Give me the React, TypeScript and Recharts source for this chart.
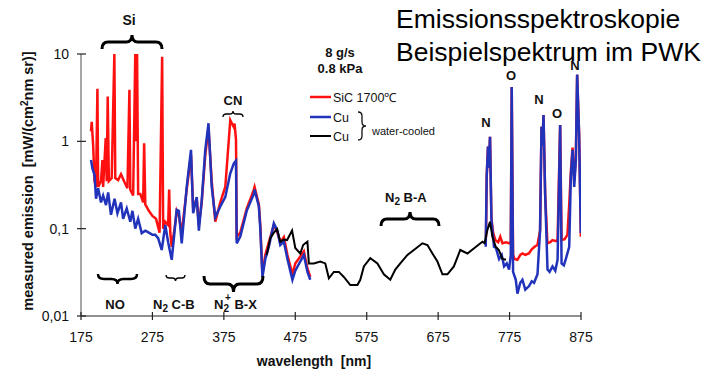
import { Line, LineChart, XAxis, YAxis } from "recharts";

const X_TICKS = [175, 275, 375, 475, 575, 675, 775, 875];
const Y_TICKS = [0.01, 0.1, 1, 10];

// SiC 1700 °C, UV part
const SIC_UV_NM = [
  189, 190, 192, 194, 196, 198, 199, 203, 205, 206, 209.6, 211, 212.4, 214, 218, 221.7, 223, 227, 231, 236,
  240, 242.8, 244, 248, 251, 252.3, 253.5, 255, 258, 262, 263.4, 265, 270, 275, 280, 285, 288.6, 290, 293,
  297, 298.4, 300, 302, 306, 309, 312, 316, 323, 329, 332, 337, 340, 344, 349, 353.5, 358, 363, 370, 377,
  384, 388.6, 390, 392, 393, 398, 407, 417, 418, 424, 426, 429, 433, 438, 445, 450, 454, 459, 464, 471,
  475, 487, 492, 496,
];
const SIC_UV_VAL = [
  1.3, 1.67, 0.9, 0.35, 0.3, 4.0, 0.3, 0.35, 0.61, 0.3, 1.09, 0.35, 3.25, 0.35, 0.38, 10, 0.38, 0.36, 0.42, 0.34,
  0.29, 3.9, 0.28, 0.24, 10, 1.0, 10, 0.25, 0.25, 0.2, 0.95, 0.19, 0.16, 0.14, 0.13, 0.09, 9.3, 0.1, 0.12,
  0.11, 0.28, 0.09, 0.062, 0.1, 0.16, 0.14, 0.09, 0.28, 0.7, 0.17, 0.22, 0.11, 0.2, 0.7, 1.4, 0.35, 0.12, 0.2, 0.3,
  1.75, 1.47, 1.6, 1.04, 0.081, 0.09, 0.17, 0.28, 0.3, 0.19, 0.11, 0.03, 0.05, 0.07, 0.11, 0.09, 0.07, 0.08, 0.05, 0.03,
  0.04, 0.055, 0.035, 0.028,
];

// SiC 1700 °C, NIR part
const SIC_NIR_NM = [
  742, 743, 744.8, 746, 747.6, 749.6, 752, 755, 759, 762, 765, 770, 774.3, 776.7, 778, 779.9, 782, 786, 790,
  793, 797, 802, 806, 810, 814, 817.7, 819.7, 821, 822.5, 824.8, 828, 832, 835, 840, 842.2, 845.8, 847.8, 852,
  856, 858.5, 860.8, 863.2, 865.5, 867.8, 869.6, 872.4, 874.8,
];
const SIC_NIR_VAL = [
  0.08, 0.4, 0.87, 0.5, 1.13, 0.13, 0.09, 0.074, 0.07, 0.081, 0.068, 0.07, 0.068, 0.07, 4.2, 0.05, 0.045, 0.044, 0.05,
  0.052, 0.05, 0.052, 0.058, 0.062, 0.065, 0.095, 1.47, 0.9, 2.0, 0.25, 0.068, 0.07, 0.074, 0.072, 0.074, 1.54, 0.074, 0.076,
  0.085, 0.19, 0.45, 0.85, 0.35, 0.65, 5.8, 1.2, 0.081,
];

// Cu, UV part
const CU_UV_NM = [
  189, 191, 194, 196, 199, 203, 206, 210, 213, 217, 222, 226, 231, 234, 239, 244, 247, 251, 255, 260, 265, 270,
  275, 279, 283, 288, 293, 297, 302, 309, 312, 316, 323, 329, 332, 337, 340, 344, 349, 353.5, 358, 363, 370,
  377, 384, 389, 392, 393, 398, 407, 417, 418, 424, 426, 429, 433, 438, 445, 450, 454, 459, 464, 471, 475,
  487, 492, 496,
];
const CU_UV_VAL = [
  0.61, 0.49, 0.41, 0.22, 0.29, 0.2, 0.24, 0.186, 0.26, 0.144, 0.22, 0.15, 0.2, 0.13, 0.17, 0.12, 0.16, 0.1, 0.13, 0.089, 0.095, 0.09,
  0.085, 0.085, 0.078, 0.057, 0.11, 0.07, 0.044, 0.164, 0.16, 0.068, 0.3, 0.8, 0.15, 0.23, 0.095, 0.21, 0.8, 1.61, 0.3, 0.135, 0.18,
  0.23, 0.43, 0.56, 0.6, 0.068, 0.081, 0.16, 0.25, 0.28, 0.18, 0.1, 0.028, 0.045, 0.062, 0.115, 0.095, 0.065, 0.071, 0.045, 0.026, 0.033,
  0.05, 0.032, 0.026,
];

// Cu, NIR part
const CU_NIR_NM = [
  741.6, 743, 744.8, 746, 747.6, 749.6, 753.2, 756, 760.3, 764, 767.3, 771, 774.3, 776.7, 778, 779.9, 783.7, 786,
  790, 793, 797, 802.3, 806, 809.3, 814.1, 817.7, 819.7, 821, 822.5, 824.8, 828.1, 831, 835.1, 839, 842.2, 845.8,
  847.8, 851, 853.8, 858.5, 860.8, 863.2, 865.5, 867.8, 869.6, 872.4, 874.8,
];
const CU_NIR_VAL = [
  0.062, 0.4, 0.87, 0.5, 1.13, 0.126, 0.062, 0.06, 0.045, 0.05, 0.037, 0.04, 0.034, 0.05, 4.2, 0.032, 0.026, 0.018,
  0.024, 0.026, 0.02, 0.022, 0.025, 0.024, 0.03, 0.095, 1.47, 0.9, 2.0, 0.25, 0.034, 0.032, 0.037, 0.033, 0.044, 1.54,
  0.04, 0.038, 0.045, 0.062, 0.4, 0.8, 0.3, 0.61, 5.8, 1.13, 0.089,
];

// Cu water-cooled
const CU_WC_NM = [
  435, 440, 445, 449.5, 454, 459, 463.5, 470.5, 475, 482, 486, 489, 492, 494, 501, 510, 517, 522, 529, 536, 543,
  552, 562, 566, 571, 580, 590, 599, 608, 615, 622, 632, 641, 653, 660, 667, 674, 681, 688, 697, 706, 716, 728,
  737, 740, 744, 747.6, 751, 755.6, 760, 765, 770,
];
const CU_WC_VAL = [
  0.05, 0.078, 0.09, 0.099, 0.071, 0.075, 0.074, 0.095, 0.06, 0.052, 0.065, 0.068, 0.071, 0.04, 0.04, 0.042, 0.04, 0.027, 0.032, 0.032, 0.028,
  0.0226, 0.0226, 0.026, 0.037, 0.046, 0.04, 0.03, 0.026, 0.034, 0.04, 0.05, 0.057, 0.068, 0.065, 0.052, 0.042, 0.03, 0.03, 0.037, 0.057, 0.052, 0.062,
  0.071, 0.068, 0.097, 0.12, 0.081, 0.062, 0.057, 0.045, 0.044,
];

const zip = (nm: number[], val: number[]) => nm.map((w, i) => ({ w, v: val[i] }));

const sicUv = zip(SIC_UV_NM, SIC_UV_VAL);
const sicNir = zip(SIC_NIR_NM, SIC_NIR_VAL);
const cuUv = zip(CU_UV_NM, CU_UV_VAL);
const cuNir = zip(CU_NIR_NM, CU_NIR_VAL);
const cuWc = zip(CU_WC_NM, CU_WC_VAL);

const RED = "#ff1010";
const BLUE = "#2233bb";
const FONT = "'Liberation Sans', Arial, sans-serif";

const XTick = ({ x, y, payload }: any) => (
  <g>
    <line x1={x} x2={x} y1={y - 4} y2={y + 4} stroke="#222" strokeWidth={1.2} />
    <text x={x} y={y + 26} textAnchor="middle" fontSize={14} fill="#111" fontFamily={FONT}>
      {payload.value}
    </text>
  </g>
);

const YTick = ({ x, y, payload }: any) => (
  <g>
    <line x1={x - 4} x2={x + 5} y1={y} y2={y} stroke="#222" strokeWidth={1.2} />
    <text x={x - 12} y={y + 5} textAnchor="end" fontSize={14} fill="#111" fontFamily={FONT}>
      {String(payload.value).replace(".", ",")}
    </text>
  </g>
);

// horizontal curly brace, tip pointing up (dir=-1) or down (dir=1)
const hBrace = (x1: number, x2: number, y: number, h: number, dir: number) => {
  const m = (x1 + x2) / 2;
  const r = Math.min(6, (x2 - x1) / 6);
  return `M${x1},${y - dir * h} Q${x1},${y} ${x1 + r},${y} L${m - r},${y} Q${m},${y} ${m},${y + dir * h} Q${m},${y} ${m + r},${y} L${x2 - r},${y} Q${x2},${y} ${x2},${y - dir * h}`;
};

const bold = { fontFamily: FONT, fontWeight: 700, fontSize: 13, fill: "#111" } as const;

export default function App() {
  return (
    <div style={{ position: "fixed", left: 0, top: 0, width: 720, height: 370, background: "#fff" }}>
      <LineChart width={720} height={370} data={cuUv} margin={{ top: 54, right: 139, bottom: 24, left: 21 }}>
        <XAxis
          dataKey="w"
          type="number"
          domain={[175, 875]}
          ticks={X_TICKS}
          allowDataOverflow
          height={30}
          tickSize={0}
          tickMargin={0}
          tickLine={false}
          tick={<XTick />}
          axisLine={{ stroke: "#222", strokeWidth: 1.2 }}
        />
        <YAxis
          scale="log"
          type="number"
          domain={[0.01, 10]}
          ticks={Y_TICKS}
          allowDataOverflow
          width={60}
          tickSize={0}
          tickMargin={0}
          tickLine={false}
          tick={<YTick />}
          axisLine={{ stroke: "#888", strokeWidth: 1.5 }}
        />
        <Line data={sicUv} dataKey="v" stroke={RED} strokeWidth={2.5} dot={false} isAnimationActive={false} />
        <Line data={sicNir} dataKey="v" stroke={RED} strokeWidth={2.5} dot={false} isAnimationActive={false} />
        <Line data={cuUv} dataKey="v" stroke={BLUE} strokeWidth={2.5} dot={false} isAnimationActive={false} />
        <Line data={cuNir} dataKey="v" stroke={BLUE} strokeWidth={2.5} dot={false} isAnimationActive={false} />
        <Line data={cuWc} dataKey="v" stroke="#000" strokeWidth={2} dot={false} isAnimationActive={false} />
      </LineChart>
      <svg width={720} height={370} style={{ position: "absolute", left: 0, top: 0, pointerEvents: "none" }}>
        <text x={396} y={28} fontFamily={FONT} fontSize={26.5} fill="#000">Emissionsspektroskopie</text>
        <text x={396} y={61} fontFamily={FONT} fontSize={26.5} fill="#000">Beispielspektrum im PWK</text>

        <text x={340} y={57} textAnchor="middle" {...bold}>8 g/s</text>
        <text x={340} y={73} textAnchor="middle" {...bold}>0.8 kPa</text>

        <line x1={310} x2={331} y1={97} y2={97} stroke={RED} strokeWidth={2.5} />
        <text x={333} y={102} fontFamily={FONT} fontSize={12.5} fill="#111">SiC 1700℃</text>
        <line x1={310} x2={331} y1={117} y2={117} stroke={BLUE} strokeWidth={2.5} />
        <text x={333} y={122} fontFamily={FONT} fontSize={12.5} fill="#111">Cu</text>
        <line x1={310} x2={331} y1={136} y2={136} stroke="#000" strokeWidth={2} />
        <text x={333} y={141} fontFamily={FONT} fontSize={12.5} fill="#111">Cu</text>
        <path d="M358,112 Q362,112 362,116 L362,122 Q362,126 366,126 Q362,126 362,130 L362,136 Q362,140 358,140" fill="none" stroke="#111" strokeWidth={1.3} />
        <text x={372} y={135} fontFamily={FONT} fontSize={11} fill="#111">water-cooled</text>

        <text x={129} y={25} textAnchor="middle" {...bold} fontSize={14}>Si</text>
        <path d={hBrace(102, 162, 42, 7, -1)} fill="none" stroke="#000" strokeWidth={3} />
        <text x={233} y={105} textAnchor="middle" {...bold}>CN</text>
        <path d={hBrace(223, 243, 114, 3, -1)} fill="none" stroke="#000" strokeWidth={1.3} />

        <text x={486} y={127} textAnchor="middle" {...bold}>N</text>
        <text x={511} y={80} textAnchor="middle" {...bold}>O</text>
        <text x={539} y={104} textAnchor="middle" {...bold}>N</text>
        <text x={557} y={118} textAnchor="middle" {...bold}>O</text>
        <text x={575} y={70} textAnchor="middle" {...bold}>N</text>

        <text x={385} y={202} {...bold}>
          N<tspan fontSize={10} dy={3}>2</tspan>
          <tspan dy={-3}> B-A</tspan>
        </text>
        <path d={hBrace(381, 439, 219, 7, -1)} fill="none" stroke="#000" strokeWidth={3} />

        <path d={hBrace(98, 137, 279, 5, 1)} fill="none" stroke="#000" strokeWidth={2.5} />
        <text x={115} y={309} textAnchor="middle" {...bold}>NO</text>
        <path d={hBrace(166, 185, 278, 3, 1)} fill="none" stroke="#000" strokeWidth={1.3} />
        <text x={153} y={309} {...bold}>
          N<tspan fontSize={10} dy={3}>2</tspan>
          <tspan dy={-3}> C-B</tspan>
        </text>
        <path d={hBrace(204, 263, 284, 8, 1)} fill="none" stroke="#000" strokeWidth={3} />
        <text x={214} y={309} {...bold}>
          N<tspan fontSize={10} dy={3}>2</tspan>
          <tspan fontSize={10} dx={-4} dy={-11}>+</tspan>
          <tspan dy={8}> B-X</tspan>
        </text>

        <text
          transform="translate(33,181) rotate(-90)"
          textAnchor="middle"
          fontFamily={FONT}
          fontWeight={700}
          fontSize={14.5}
          fill="#111"
        >
          {"measured emission\u00a0 [mW/(cm"}
          <tspan fontSize={10} dy={-5}>2</tspan>
          <tspan dy={5}>nm sr)]</tspan>
        </text>
        <text x={314} y={366} textAnchor="middle" fontFamily={FONT} fontWeight={700} fontSize={14} fill="#111">
          {"wavelength\u00a0 [nm]"}
        </text>
      </svg>
    </div>
  );
}
